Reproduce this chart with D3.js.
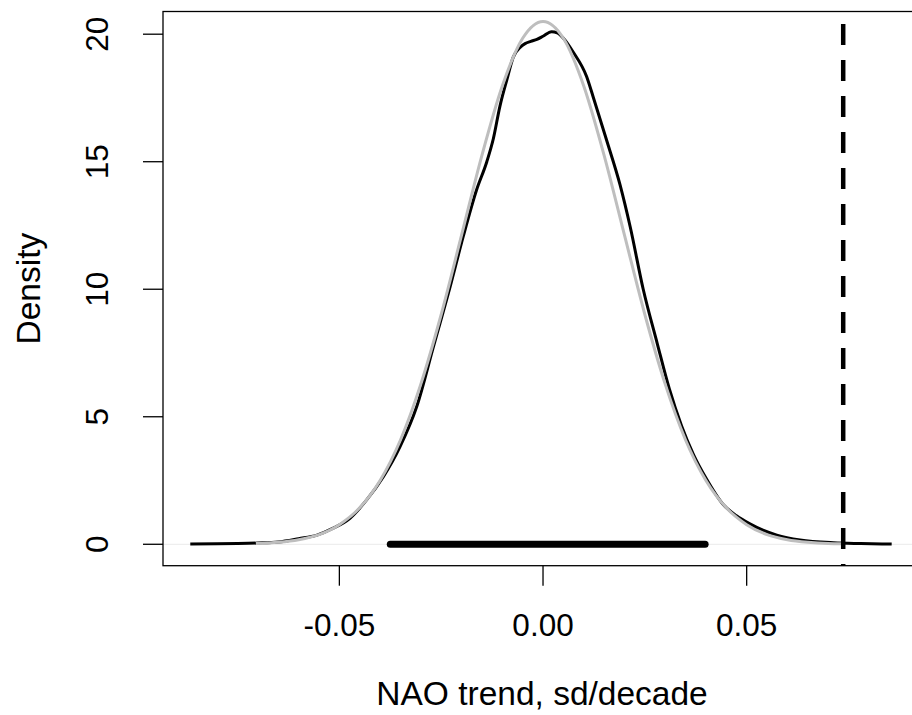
<!DOCTYPE html>
<html>
<head>
<meta charset="UTF-8">
<title>NAO trend density</title>
<script src="https://cdn.jsdelivr.net/npm/d3@7"></script>
<style>
    body { margin: 0; background: #fff; }
    text { font-family: "Liberation Sans", Arial, Helvetica, sans-serif; fill: #000; }
    .tick-label { font-size: 31.5px; }
    .axis-title { font-size: 33.5px; }
</style>
</head>
<body>
<script>
    // kernel density of the simulated trends (black)
    var blackX = [-0.0866, -0.080, -0.075, -0.070, -0.065, -0.060, -0.0555, -0.0515, -0.0474, -0.0433,
                  -0.0392, -0.0351, -0.0310, -0.0269, -0.0228, -0.0196, -0.0163, -0.0138, -0.0122, -0.0106,
                  -0.0089, -0.0073, -0.0055, -0.0044, -0.0030, -0.0015, 0.0000, 0.0021, 0.0035, 0.0050,
                  0.0074, 0.0107, 0.0123, 0.0156, 0.0189, 0.0214, 0.0246, 0.0280, 0.0310, 0.0340,
                  0.0370, 0.0400, 0.0443, 0.0475, 0.0508, 0.0540, 0.0574, 0.0631, 0.0713, 0.0780, 0.0856];
    var blackY = [0.01, 0.02, 0.03, 0.05, 0.09, 0.22, 0.36, 0.63, 1.02, 1.74,
                  2.65, 3.83, 5.40, 7.75, 10.10, 12.06, 13.90, 15.00, 15.90, 17.16,
                  18.20, 19.10, 19.50, 19.63, 19.72, 19.80, 19.92, 20.10, 20.05, 19.84,
                  19.30, 18.34, 17.55, 15.85, 14.10, 12.45, 10.00, 7.90, 6.10, 4.65,
                  3.50, 2.60, 1.55, 1.12, 0.80, 0.55, 0.36, 0.17, 0.06, 0.03, 0.01];

    // fitted normal curve (grey)
    var greyX = [-0.0705, -0.065, -0.060, -0.055, -0.050, -0.045, -0.040, -0.035, -0.030, -0.025,
                 -0.020, -0.015, -0.010, -0.005, 0.000, 0.005, 0.010, 0.015, 0.020, 0.025,
                 0.030, 0.035, 0.040, 0.045, 0.050, 0.055, 0.060, 0.065, 0.070, 0.0735];
    var greyY = [0.03, 0.08, 0.18, 0.38, 0.77, 1.43, 2.50, 4.09, 6.28, 9.01,
                 12.12, 15.25, 17.97, 19.84, 20.50, 19.84, 17.97, 15.25, 12.12, 9.01,
                 6.28, 4.09, 2.50, 1.43, 0.77, 0.38, 0.18, 0.08, 0.03, 0.02];

    var intervalRange = [-0.0375, 0.0398];   // thick bar on the zero line
    var observedTrend = 0.0737;              // dashed vertical line

    var xTicks = [-0.05, 0, 0.05];
    var xTickLabels = ["-0.05", "0.00", "0.05"];
    var yTicks = [0, 5, 10, 15, 20];
    var yTickLabels = ["0", "5", "10", "15", "20"];

    var W = 912, H = 715;
    var plot = {left: 163, right: 921, top: 11.5, bottom: 565.7};

    var x = d3.scaleLinear().domain([-0.0933, 0.0928]).range([plot.left, plot.right]);
    var y = d3.scaleLinear().domain([-0.84, 20.89]).range([plot.bottom, plot.top]);

    var svg = d3.select("body").append("svg")
            .attr("width", W)
            .attr("height", H);

    // faint zero line
    svg.append("line")
            .attr("x1", plot.left).attr("x2", plot.right)
            .attr("y1", y(0)).attr("y2", y(0))
            .attr("stroke", "#eeeeee")
            .attr("stroke-width", 1.2);

    var line = d3.line()
            .x(function (d) { return x(d[0]); })
            .y(function (d) { return y(d[1]); })
            .curve(d3.curveMonotoneX);

    svg.append("path")
            .datum(d3.zip(blackX, blackY))
            .attr("d", line)
            .attr("fill", "none")
            .attr("stroke", "#000")
            .attr("stroke-width", 3)
            .attr("stroke-linejoin", "round");

    svg.append("path")
            .datum(d3.zip(greyX, greyY))
            .attr("d", line)
            .attr("fill", "none")
            .attr("stroke", "#bebebe")
            .attr("stroke-width", 3)
            .attr("stroke-linejoin", "round");

    svg.append("line")
            .attr("x1", x(intervalRange[0])).attr("x2", x(intervalRange[1]))
            .attr("y1", y(0)).attr("y2", y(0))
            .attr("stroke", "#000")
            .attr("stroke-width", 7)
            .attr("stroke-linecap", "round");

    svg.append("line")
            .attr("x1", x(observedTrend)).attr("x2", x(observedTrend))
            .attr("y1", plot.top).attr("y2", plot.bottom)
            .attr("stroke", "#000")
            .attr("stroke-width", 4.5)
            .attr("stroke-dasharray", "21,15")
            .attr("stroke-dashoffset", 23.5);

    // box
    svg.append("rect")
            .attr("x", plot.left).attr("y", plot.top)
            .attr("width", plot.right - plot.left)
            .attr("height", plot.bottom - plot.top)
            .attr("fill", "none")
            .attr("stroke", "#000")
            .attr("stroke-width", 1.3);

    // x axis ticks + labels
    var gx = svg.append("g");
    gx.selectAll("line").data(xTicks).enter().append("line")
            .attr("x1", function (d) { return x(d); })
            .attr("x2", function (d) { return x(d); })
            .attr("y1", plot.bottom).attr("y2", plot.bottom + 20)
            .attr("stroke", "#000").attr("stroke-width", 1.3);
    gx.selectAll("text").data(xTicks).enter().append("text")
            .attr("class", "tick-label")
            .attr("x", function (d) { return x(d); })
            .attr("y", 636)
            .attr("text-anchor", "middle")
            .text(function (d, i) { return xTickLabels[i]; });

    // y axis ticks + labels
    var gy = svg.append("g");
    gy.selectAll("line").data(yTicks).enter().append("line")
            .attr("x1", plot.left - 20).attr("x2", plot.left)
            .attr("y1", function (d) { return y(d); })
            .attr("y2", function (d) { return y(d); })
            .attr("stroke", "#000").attr("stroke-width", 1.3);
    gy.selectAll("text").data(yTicks).enter().append("text")
            .attr("class", "tick-label")
            .attr("transform", function (d) { return "translate(108," + y(d) + ") rotate(-90)"; })
            .attr("text-anchor", "middle")
            .text(function (d, i) { return yTickLabels[i]; });

    svg.append("text")
            .attr("class", "axis-title")
            .attr("x", (plot.left + plot.right) / 2)
            .attr("y", 705)
            .attr("text-anchor", "middle")
            .text("NAO trend, sd/decade");

    svg.append("text")
            .attr("class", "axis-title")
            .attr("transform", "translate(40," + (plot.top + plot.bottom) / 2 + ") rotate(-90)")
            .attr("text-anchor", "middle")
            .text("Density");
</script>
</body>
</html>
